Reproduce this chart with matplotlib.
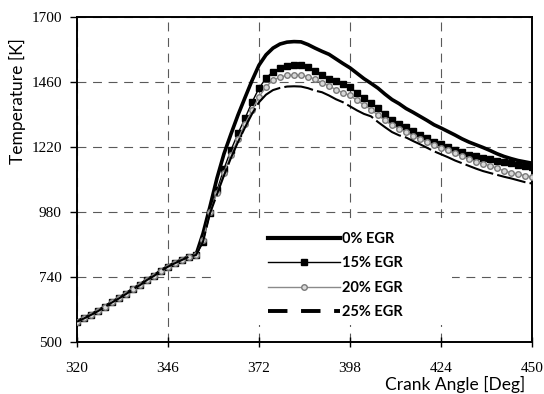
import matplotlib
matplotlib.use('Agg')
import matplotlib.pyplot as plt
from matplotlib.patches import Rectangle
import numpy as np

# crank angle, every 2 deg
angulo = np.arange(320, 452, 2)

egr_0 = [575, 587, 600, 614, 630, 646, 661, 677, 695, 710, 729, 744, 763, 778, 791, 803, 815, 821,
         900, 1000, 1105, 1195, 1268, 1338, 1402, 1465, 1522, 1560, 1585, 1600, 1607, 1609, 1608, 1598,
         1585, 1573, 1562, 1545, 1528, 1512, 1492, 1472, 1455, 1437, 1415, 1395, 1380, 1362, 1348, 1333,
         1318, 1302, 1290, 1277, 1264, 1250, 1238, 1228, 1218, 1207, 1195, 1185, 1177, 1170, 1165, 1160]
egr_15 = [575, 587, 600, 614, 630, 646, 661, 677, 695, 710, 729, 744, 763, 778, 791, 803, 815, 821,
          870, 975, 1060, 1140, 1209, 1270, 1326, 1385, 1437, 1474, 1498, 1510, 1518, 1523, 1521, 1516,
          1502, 1486, 1472, 1462, 1452, 1440, 1420, 1400, 1383, 1362, 1340, 1320, 1305, 1293, 1278, 1264,
          1252, 1240, 1230, 1220, 1210, 1200, 1192, 1185, 1180, 1175, 1170, 1166, 1160, 1155, 1150, 1147]
egr_20 = [575, 587, 600, 614, 630, 646, 661, 677, 695, 710, 729, 744, 763, 778, 791, 803, 815, 821,
          875, 980, 1050, 1125, 1190, 1250, 1305, 1355, 1405, 1442, 1467, 1478, 1484, 1486, 1484, 1480,
          1470, 1457, 1445, 1432, 1420, 1410, 1392, 1375, 1358, 1337, 1318, 1300, 1287, 1275, 1262, 1250,
          1238, 1226, 1218, 1208, 1196, 1186, 1176, 1166, 1158, 1150, 1142, 1132, 1125, 1120, 1114, 1110]
egr_25 = [575, 587, 600, 614, 630, 646, 661, 677, 695, 710, 729, 744, 763, 778, 791, 803, 815, 821,
          870, 975, 1045, 1115, 1180, 1238, 1292, 1342, 1385, 1413, 1430, 1438, 1443, 1444, 1443, 1437,
          1428, 1422, 1410, 1396, 1385, 1370, 1355, 1342, 1333, 1312, 1293, 1275, 1263, 1255, 1242, 1230,
          1217, 1204, 1193, 1182, 1170, 1160, 1150, 1140, 1131, 1124, 1117, 1110, 1104, 1097, 1090, 1085]

xticks = [320, 346, 372, 398, 424, 450]
yticks = [500, 740, 980, 1220, 1460, 1700]

fig = plt.figure(figsize=(5.44, 3.94), dpi=100)
ax = fig.add_axes([0.1415, 0.132, 0.8365, 0.825])

ax.plot(angulo, egr_0, color='black', lw=2.6, label='0% EGR', zorder=3)
ax.plot(angulo, egr_15, color='black', lw=1.0, marker='s', ms=4.4, label='15% EGR', zorder=4)
ax.plot(angulo, egr_20, color='#8a8a8a', lw=1.0, marker='o', ms=4, mfc='#d8d8d8', mec='#7a7a7a',
        mew=1.0, label='20% EGR', zorder=5)
ax.plot(angulo, egr_25, color='black', lw=1.5, dashes=(14, 2), label='25% EGR', zorder=6)

ax.set_xlim(320, 450)
ax.set_ylim(500, 1700)
ax.set_xticks(xticks)
ax.set_yticks(yticks)
ax.grid(True, color='#5a5a5a', linestyle=(0, (8, 6)), linewidth=0.8)
ax.set_axisbelow(True)

# white area behind the legend hides the grid there
ax.add_patch(Rectangle((0.303, 0.0525), 0.521, 0.3225, transform=ax.transAxes,
                       facecolor='white', edgecolor='none', zorder=1))

for s in ax.spines.values():
    s.set_linewidth(1.4)
ax.tick_params(axis='x', direction='inout', length=7, width=1, pad=11)
ax.tick_params(axis='y', direction='out', length=5, width=1, pad=6)
for lbl in ax.get_xticklabels() + ax.get_yticklabels():
    lbl.set_fontfamily('Liberation Serif')
    lbl.set_fontsize(11)

ax.set_xlabel('Crank Angle [Deg]', fontfamily='Lato', fontsize=12.5)
ax.xaxis.set_label_coords(0.83, -0.105)
ax.set_ylabel('Temperature [K]', fontfamily='Lato', fontsize=12.5)
ax.yaxis.set_label_coords(-0.112, 0.74)

leg = ax.legend(loc='lower left', bbox_to_anchor=(0.385, 0.02), frameon=False, numpoints=1,
                handlelength=4.9, handletextpad=0.15, labelspacing=0.72, borderpad=0.6,
                prop={'family': 'Lato', 'weight': 'bold', 'size': 10.5})
leg.get_lines()[0].set_linewidth(3)
leg.get_lines()[3].set_linewidth(2.8)
leg.get_lines()[3].set_dashes((5, 3.5))

fig.savefig('out.png', dpi=100)
